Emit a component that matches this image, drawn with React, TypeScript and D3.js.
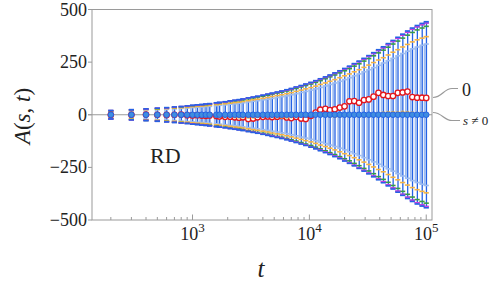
import React from "react";
import * as d3 from "d3";

// sampling times (t)
const times = [
  200, 300, 400, 500, 600, 700, 800, 900, 1000, 1100, 1200, 1300, 1400, 1600,
  1700, 1900, 2100, 2300, 2500, 2700, 3000, 3300, 3600, 4000, 4400, 4800, 5300,
  5800, 6400, 7000, 7700, 8500, 9300, 10300, 11300, 12400, 13700, 15000, 16500,
  18200, 20000, 22000, 24200, 26600, 29300, 32200, 35400, 39000, 42900, 47200,
  51900, 57100, 62800, 69100, 76000, 83600, 92000, 100000,
];

// s = 0 mean (red open circles)
const meanZero = [
  0, 0, 1, 0, -1, 0, 1, -2, -3, -2, -4, -5, -3, -6, -8, -10, -9, -12, -14, -12,
  -20, -18, -12, -10, -8, -11, -9, -6, -13, -16, -10, -18, -20, -5, 10, 24, 28,
  22, 26, 34, 40, 64, 65, 57, 70, 73, 86, 104, 94, 89, 89, 104, 106, 110, 84,
  81, 81, 80,
];

// s != 0 means (orange dots peeking out around zero)
const meanOrange = [
  0, 0, 0, 0, 0, 0, 0, -1, -1, -2, -2, -3, -2, -4, -5, -6, -5, -7, -8, -7, -9,
  -8, -6, -5, -4, -6, -7, -8, -9, -7, -5, -3, -2, 0, 2, 1, -1, -4, -6, -3, 0,
  2, 1, -2, -3, -1, 2, 4, 6, 8, 9, 7, 10, 8, 6, 4, 5, 3,
];

// error bar half-widths per series
const errBlue = [
  20, 24, 28, 31, 34, 37, 39, 42, 45, 47, 49, 51, 53, 57, 59, 62, 66, 69, 72,
  75, 80, 84, 88, 93, 98, 103, 108, 113, 119, 125, 132, 139, 146, 154, 162, 171,
  180, 189, 199, 209, 220, 231, 243, 255, 268, 281, 295, 309, 323, 338, 353,
  368, 383, 398, 412, 424, 434, 442,
];
const errMagenta = [
  20, 24, 27, 31, 33, 36, 39, 41, 44, 46, 48, 50, 52, 56, 58, 61, 65, 68, 71,
  74, 79, 83, 87, 92, 97, 101, 106, 111, 117, 123, 130, 137, 144, 152, 160, 168,
  177, 186, 196, 206, 217, 228, 240, 252, 264, 277, 291, 305, 318, 333, 348,
  363, 378, 392, 406, 418, 428, 436,
];
const errGreen = [
  19, 23, 27, 29, 32, 35, 37, 40, 43, 45, 47, 48, 50, 54, 56, 59, 63, 66, 68,
  71, 76, 80, 84, 88, 93, 98, 103, 107, 113, 119, 125, 132, 139, 146, 154, 162,
  171, 180, 189, 199, 209, 219, 231, 242, 255, 267, 280, 294, 307, 321, 336,
  350, 364, 378, 391, 403, 412, 420,
];
const errOrange = [
  17, 20, 24, 26, 29, 31, 33, 35, 38, 40, 41, 43, 45, 48, 50, 52, 55, 58, 60,
  63, 67, 71, 74, 78, 82, 87, 91, 95, 100, 105, 111, 117, 123, 129, 136, 144,
  151, 159, 167, 176, 185, 194, 204, 214, 225, 236, 248, 260, 271, 284, 297,
  309, 322, 334, 346, 356, 364, 371,
];
const errLight = [
  15, 18, 21, 24, 26, 28, 30, 32, 34, 36, 37, 39, 40, 43, 45, 47, 50, 52, 55,
  57, 61, 64, 67, 71, 74, 78, 82, 86, 90, 95, 100, 106, 111, 117, 123, 130,
  137, 144, 151, 159, 167, 176, 185, 194, 204, 214, 224, 235, 246, 257, 268,
  280, 291, 302, 313, 322, 330, 336,
];

const yTicks = [500, 250, 0, -250, -500];
const xMajor = [1000, 10000, 100000];
const xMinor = [
  200, 300, 400, 500, 600, 700, 800, 900, 2000, 3000, 4000, 5000, 6000, 7000,
  8000, 9000, 20000, 30000, 40000, 50000, 60000, 70000, 80000, 90000,
];

const W = 498;
const H = 282;
const margin = { left: 92, right: 66, top: 9.5, bottom: 62 };
const FONT = "Liberation Serif";

const C = {
  blue: "#2462e4",
  light: "#9dbcf0",
  magenta: "#d43ee2",
  purple: "#7c44c8",
  green: "#3a9c44",
  orange: "#f4b445",
  red: "#e3161c",
  frame: "#9a9a9a",
  text: "#222",
};

function Label(props: any) {
  const { children, style, ...rest } = props;
  return (
    <text fontFamily={FONT} fill={C.text} style={{ fontFamily: FONT, ...style }} {...rest}>
      {children}
    </text>
  );
}

export default function App() {
  const x = d3
    .scaleLog()
    .domain([138, 112000])
    .range([margin.left, W - margin.right]);
  const y = d3
    .scaleLinear()
    .domain([-500, 500])
    .range([H - margin.bottom, margin.top]);

  const capW = 2.6;
  const caps = (err: number[], color: string, key: string, sw = 1.6) =>
    times.map((t, i) => (
      <g key={key + i} stroke={color} strokeWidth={sw}>
        <line x1={x(t) - capW} x2={x(t) + capW} y1={y(err[i])} y2={y(err[i])} />
        <line x1={x(t) - capW} x2={x(t) + capW} y1={y(-err[i])} y2={y(-err[i])} />
      </g>
    ));

  const x0 = margin.left;
  const x1 = W - margin.right;
  const yTop = margin.top;
  const yBot = H - margin.bottom;

  return (
    <svg
      width={W}
      height={H}
      style={{ position: "absolute", left: 0, top: 0, background: "#fff", fontFamily: FONT }}
    >
      {/* zero line */}
      <line x1={x0 - 4} x2={x1} y1={y(0)} y2={y(0)} stroke={C.frame} strokeWidth={1} />

      {/* error bar stems */}
      {times.map((t, i) => (
        <line
          key={"l" + i}
          x1={x(t) - 1.6}
          x2={x(t) - 1.6}
          y1={y(errLight[i])}
          y2={y(-errLight[i])}
          stroke={C.light}
          strokeWidth={1.8}
        />
      ))}
      {times.map((t, i) => (
        <line
          key={"b" + i}
          x1={x(t) + 0.2}
          x2={x(t) + 0.2}
          y1={y(errBlue[i])}
          y2={y(-errBlue[i])}
          stroke={C.blue}
          strokeWidth={1.3}
        />
      ))}

      {/* caps */}
      {caps(errLight, C.light, "cl")}
      {caps(errOrange, C.orange, "co")}
      {caps(errGreen, C.green, "cg")}
      {caps(errMagenta, C.purple, "cp")}
      {caps(errMagenta, C.magenta, "cm", 1.2)}
      {caps(errBlue, C.blue, "cb")}

      {/* s = 0 */}
      {times.map((t, i) => (
        <circle
          key={"r" + i}
          cx={x(t)}
          cy={y(meanZero[i])}
          r={2.7}
          fill="#fff"
          stroke={C.red}
          strokeWidth={1.3}
        />
      ))}

      {/* s != 0 */}
      {times.map((t, i) => (
        <circle key={"o" + i} cx={x(t)} cy={y(meanOrange[i])} r={2.2} fill={C.orange} />
      ))}
      {times.map((t, i) => (
        <circle
          key={"g" + i}
          cx={x(t)}
          cy={y(0)}
          r={2.8}
          fill="#3f8de0"
          stroke={C.blue}
          strokeWidth={1}
        />
      ))}

      {/* frame */}
      <rect
        x={x0}
        y={yTop}
        width={x1 - x0}
        height={yBot - yTop}
        fill="none"
        stroke={C.frame}
        strokeWidth={1}
      />

      {/* y axis */}
      {yTicks.map((v) => (
        <g key={"yt" + v}>
          <line x1={x0 - 4} x2={x0} y1={y(v)} y2={y(v)} stroke={C.frame} />
          <Label x={x0 - 5} y={y(v) + 6} textAnchor="end" fontSize={18}>
            {v < 0 ? "\u2212" + Math.abs(v) : String(v)}
          </Label>
        </g>
      ))}

      {/* x axis */}
      {xMinor.map((v) => (
        <line key={"xm" + v} x1={x(v)} x2={x(v)} y1={yBot} y2={yBot - 3} stroke={C.frame} />
      ))}
      {xMajor.map((v, i) => (
        <g key={"xM" + v}>
          <line x1={x(v)} x2={x(v)} y1={yBot} y2={yBot - 5.5} stroke={C.frame} />
          <Label x={x(v)} y={yBot + 20} textAnchor="middle" fontSize={18}>
            10
            <tspan dy={-8} fontSize={13}>
              {String(3 + i)}
            </tspan>
          </Label>
        </g>
      ))}

      {/* axis labels */}
      <Label x={261} y={277} fontSize={25} fontStyle="italic" textAnchor="middle">
        t
      </Label>
      <Label transform="translate(30,116) rotate(-90)" fontSize={23} textAnchor="middle">
        <tspan fontStyle="italic">A</tspan>(<tspan fontStyle="italic">s</tspan>,{" "}
        <tspan fontStyle="italic">t</tspan>)
      </Label>
      <Label x={150} y={163} fontSize={22}>
        RD
      </Label>

      {/* annotations */}
      <path
        d="M433,97.5 C442,97.5 444,88.5 452,88.5 L458,88.5"
        fill="none"
        stroke={C.frame}
        strokeWidth={1.2}
      />
      <Label x={462} y={96} fontSize={18}>
        0
      </Label>
      <path
        d="M433,112.5 C442,112.5 444,120.5 452,120.5 L460,120.5"
        fill="none"
        stroke={C.frame}
        strokeWidth={1.2}
      />
      <Label x={463} y={125} fontSize={13}>
        <tspan fontStyle="italic">s</tspan> ≠ 0
      </Label>
    </svg>
  );
}
